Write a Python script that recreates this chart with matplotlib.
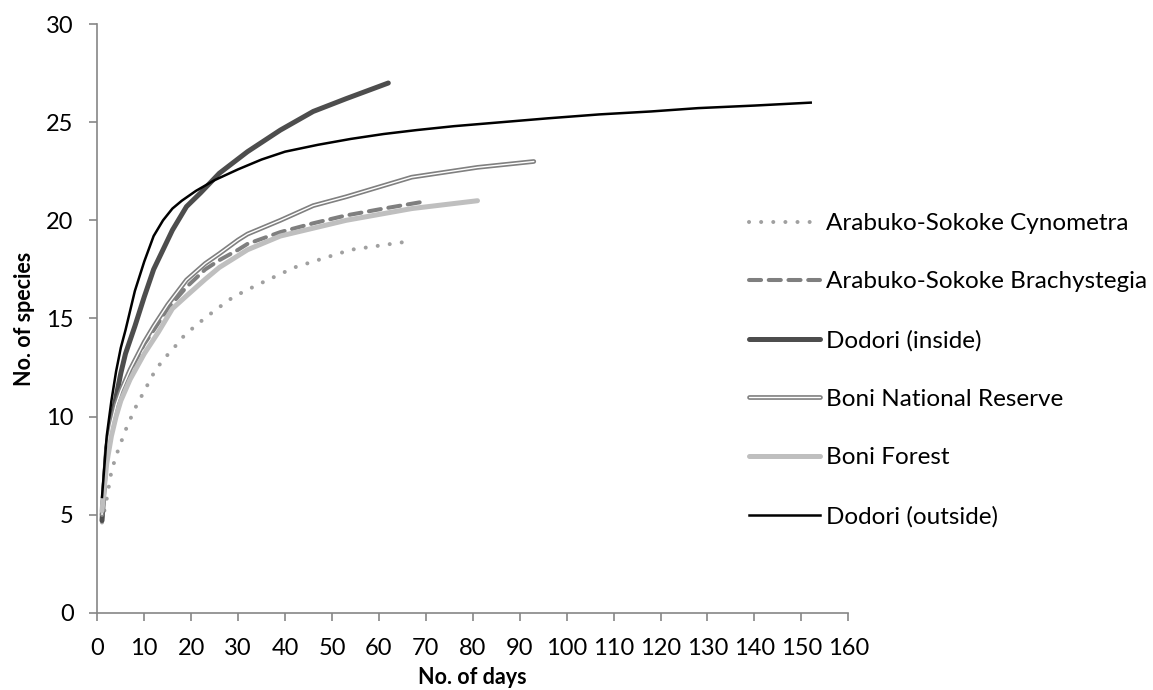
import matplotlib
matplotlib.use('Agg')
from matplotlib import pyplot as plt
import matplotlib.patheffects as pe

plt.rcParams['font.family'] = ['Lato', 'DejaVu Sans']

# species accumulation data (days, no. of species)
cyn_days = [1, 2, 3, 4, 6, 8, 10, 12, 14, 16, 18, 21, 25, 29, 34, 42, 54, 67]
cyn_sp = [4.6, 5.8, 7.2, 8.0, 9.3, 10.4, 11.3, 12.2, 12.9, 13.4, 14.0, 14.65, 15.4, 16.1, 16.7, 17.6, 18.5, 18.95]

bra_days = [1, 2, 3, 4, 5, 7, 10, 12, 15, 19, 23, 26, 30, 32, 39, 46, 53, 61, 69]
bra_sp = [4.8, 8.1, 9.5, 10.5, 11.2, 12.3, 13.7, 14.4, 15.5, 16.6, 17.5, 17.97, 18.5, 18.8, 19.4, 19.85, 20.25, 20.6, 20.93]

din_days = [1, 2, 3, 4, 5, 6, 8, 10, 12, 14, 16, 19, 22, 26, 32, 39, 46, 53, 62]
din_sp = [4.7, 8.4, 9.8, 11.0, 12.2, 13.2, 14.6, 16.1, 17.5, 18.5, 19.5, 20.7, 21.4, 22.4, 23.5, 24.6, 25.55, 26.2, 27.0]

bnr_days = [1, 2, 3, 4, 5, 7, 10, 12, 15, 19, 23, 26, 30, 32, 39, 46, 53, 67, 81, 93]
bnr_sp = [5.0, 8.3, 9.6, 10.6, 11.3, 12.4, 13.8, 14.6, 15.7, 16.96, 17.8, 18.3, 19.0, 19.3, 20.0, 20.75, 21.2, 22.2, 22.7, 23.0]

bf_days = [1, 2, 3, 4, 5, 7, 10, 13, 16, 19, 23, 26, 30, 32, 39, 46, 53, 67, 81]
bf_sp = [5.2, 7.6, 9.0, 10.0, 10.8, 11.9, 13.2, 14.3, 15.5, 16.15, 17.0, 17.6, 18.2, 18.5, 19.2, 19.6, 20.0, 20.6, 21.0]

dout_days = [1, 2, 3, 4, 5, 6, 8, 10, 12, 14, 16, 18, 21, 25, 30, 35, 40, 47, 54, 61, 68, 76, 86, 96, 107, 118, 128, 140, 152]
dout_sp = [5.9, 9.0, 10.8, 12.3, 13.5, 14.4, 16.4, 17.9, 19.2, 20.0, 20.6, 21.0, 21.5, 22.05, 22.6, 23.1, 23.5, 23.85, 24.15, 24.4, 24.6, 24.8, 25.0, 25.2, 25.4, 25.55, 25.72, 25.85, 26.0]

labels = ['Arabuko-Sokoke Cynometra', 'Arabuko-Sokoke Brachystegia', 'Dodori (inside)',
          'Boni National Reserve', 'Boni Forest', 'Dodori (outside)']

fig = plt.figure(figsize=(11.53, 6.90), dpi=100)
ax = fig.add_axes([0.0844, 0.112, 0.6513, 0.853])

ax.plot(cyn_days, cyn_sp, color='#a0a0a0', lw=2.9, linestyle=(0, (0.01, 3.0)),
        dash_capstyle='round', label=labels[0])
ax.plot(bra_days, bra_sp, color='#7f7f7f', lw=2.9, linestyle=(0, (3.0, 1.9)),
        dash_capstyle='round', label=labels[1])
ax.plot(din_days, din_sp, color='#4d4d4d', lw=3.6, solid_capstyle='round', label=labels[2])
# double line: grey outline with white core
ax.plot(bnr_days, bnr_sp, color='white', lw=1.0, solid_capstyle='round', label=labels[3],
        path_effects=[pe.Stroke(linewidth=3.4, foreground='#808080'), pe.Normal()])
ax.plot(bf_days, bf_sp, color='#bfbfbf', lw=3.6, solid_capstyle='round', label=labels[4])
ax.plot(dout_days, dout_sp, color='black', lw=1.8, label=labels[5])

ax.set_xlim(0, 160)
ax.set_ylim(0, 30)
ax.set_xticks(range(0, 161, 10))
ax.set_yticks(range(0, 31, 5))

for s in ['top', 'right']:
    ax.spines[s].set_visible(False)
for s in ['left', 'bottom']:
    ax.spines[s].set_color('#868686')
    ax.spines[s].set_linewidth(1.2)
ax.tick_params(axis='both', colors='#868686', labelcolor='black', labelsize=17,
               length=6, width=1.2, direction='out')
ax.tick_params(axis='y', pad=11)
ax.tick_params(axis='x', pad=12)

ax.set_xlabel('No. of days', fontsize=15.5, fontweight='bold', labelpad=6)
ax.set_ylabel('No. of species', fontsize=15.5, fontweight='bold', labelpad=8)

leg = ax.legend(loc='upper left', bbox_to_anchor=(749 / 1153, 1 - 213 / 690),
                bbox_transform=fig.transFigure, frameon=False, fontsize=17.5,
                handlelength=2.92, handletextpad=0.25, labelspacing=1.54,
                borderpad=0, borderaxespad=0)

fig.savefig('out.png', dpi=100)
